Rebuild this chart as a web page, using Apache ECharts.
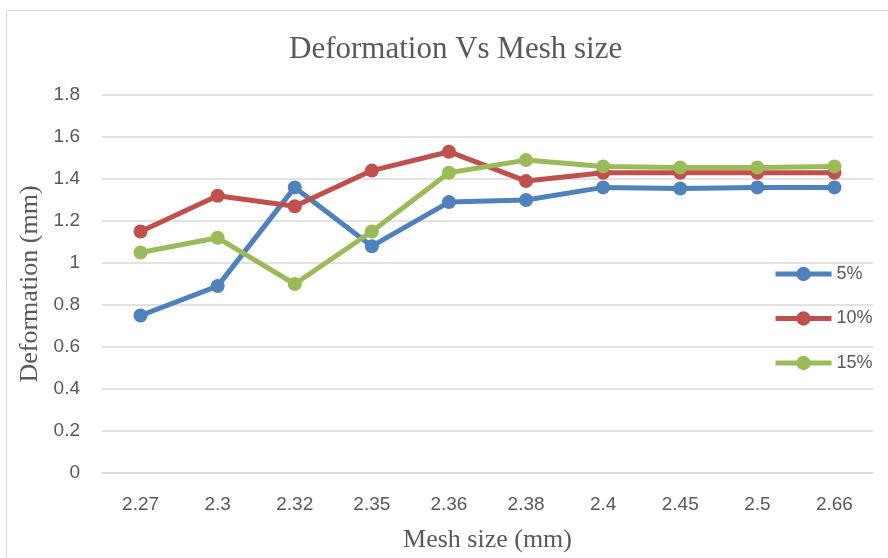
<!DOCTYPE html>
<html><head><meta charset="utf-8">
<script src="https://cdn.jsdelivr.net/npm/echarts@6/dist/echarts.min.js"></script>
<style>html,body{margin:0;padding:0;background:#fff}#c{width:888px;height:558px}</style>
</head><body><div id="c"></div>
<script>
const categories = ['2.27','2.3','2.32','2.35','2.36','2.38','2.4','2.45','2.5','2.66'];
const s5 = [0.75,0.89,1.36,1.08,1.29,1.30,1.36,1.355,1.36,1.36];
const s10 = [1.15,1.32,1.27,1.44,1.53,1.39,1.43,1.43,1.43,1.43];
const s15 = [1.05,1.12,0.90,1.15,1.43,1.49,1.46,1.455,1.455,1.46];
const seriesNames = ['5%','10%','15%'];
const colors = ['#4f81bd','#c0504d','#9bbb59'];

const chart = echarts.init(document.getElementById('c'));
const mk = (name, data, color) => ({
  name, type:'line', data, color,
  symbol:'circle', symbolSize:14,
  lineStyle:{width:5,color},
  itemStyle:{color},
  emphasis:{disabled:true}
});
chart.setOption({
  animation:false,
  graphic:[{type:'rect',shape:{x:6.5,y:10.5,width:900,height:600},style:{fill:'none',stroke:'#d9d9d9',lineWidth:1},z:-10}],
  title:{text:'Deformation Vs Mesh size',left:289,top:34,padding:0,textStyle:{fontFamily:'Liberation Serif',fontWeight:'normal',fontSize:31,color:'#595959'}},
  legend:{orient:'vertical',left:773,top:265,itemGap:26.5,itemWidth:56,itemHeight:18,padding:0,
    lineStyle:{width:5},
    textStyle:{fontFamily:'Liberation Sans',fontSize:18,lineHeight:18,color:'#595959'},
    data:seriesNames},
  grid:{left:102,right:15,top:95,bottom:85,outerBoundsMode:'none',containLabel:false},
  xAxis:{type:'category',data:categories,boundaryGap:true,
    name:'Mesh size (mm)',nameLocation:'middle',nameGap:54,
    nameTextStyle:{fontFamily:'Liberation Serif',fontSize:26,color:'#595959'},
    axisLine:{lineStyle:{color:'#d9d9d9',width:1.5}},axisTick:{show:false},
    axisLabel:{fontFamily:'Liberation Sans',fontSize:19,color:'#595959',margin:22}},
  yAxis:{type:'value',min:0,max:1.8,interval:0.2,
    name:'Deformation (mm)',nameLocation:'middle',nameGap:57,nameRotate:90,
    nameTextStyle:{fontFamily:'Liberation Serif',fontSize:26,color:'#595959'},
    axisLine:{show:false},axisTick:{show:false},
    axisLabel:{fontFamily:'Liberation Sans',fontSize:19,color:'#595959',margin:22,
      formatter:v=>String(Math.round(v*10)/10)},
    splitLine:{lineStyle:{color:'#d9d9d9',width:1.5}}},
  series:[mk(seriesNames[0],s5,colors[0]),mk(seriesNames[1],s10,colors[1]),mk(seriesNames[2],s15,colors[2])]
});
</script></body></html>
